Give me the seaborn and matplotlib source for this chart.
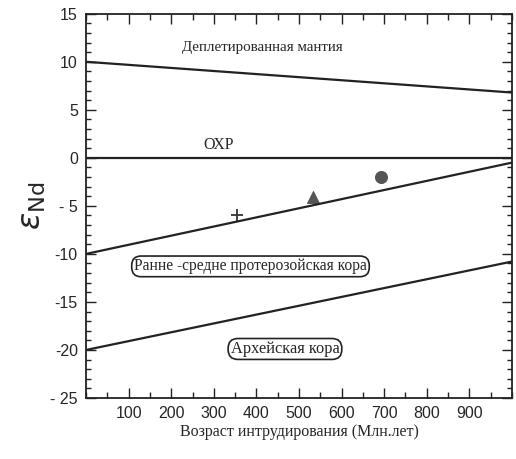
import matplotlib
matplotlib.use("Agg")
import matplotlib.pyplot as plt
import seaborn as sns
import pandas as pd
from matplotlib.ticker import MultipleLocator, FixedLocator

# ---- data ----
ages = [0, 1000]
depleted_mantle = [10.0, 6.8]
chur = [0.0, 0.0]
proterozoic_crust = [-10.0, -0.5]
archean_crust = [-20.0, -10.8]

sample_age = [355, 532, 692]
sample_eps = [-5.9, -4.1, -2.0]
sample_marker = ["+", "^", "o"]

xtick_vals = [100, 200, 300, 400, 500, 600, 700, 800, 900]
xtick_labels = ["100", "200", "300", "400", "500", "600", "700", "800", "900"]
ytick_vals = [-25, -20, -15, -10, -5, 0, 5, 10, 15]
ytick_labels = ["- 25", "-20", "-15", "-10", "- 5", "0", "5", "10", "15"]

# ---- style ----
sns.set_theme(style="ticks")
plt.rcParams["font.family"] = ["Liberation Sans", "DejaVu Sans"]

fig = plt.figure(figsize=(5.16, 4.59), dpi=100)
ax = fig.add_axes([0.167, 0.133, 0.825, 0.837])

lines = pd.DataFrame({
    "age": ages * 4,
    "eps": depleted_mantle + chur + proterozoic_crust + archean_crust,
    "line": ["dm"] * 2 + ["chur"] * 2 + ["prot"] * 2 + ["arch"] * 2,
})
for name, g in lines.groupby("line"):
    sns.lineplot(data=g, x="age", y="eps", color="#222222", lw=1.6, ax=ax,
                 legend=False)

for a, e, m in zip(sample_age, sample_eps, sample_marker):
    if m == "+":
        sns.scatterplot(x=[a], y=[e], marker="+", s=85, color="#333333",
                        linewidth=1.3, ax=ax, legend=False)
    else:
        sns.scatterplot(x=[a], y=[e], marker=m, s=75, color="#555555",
                        edgecolor="#555555", ax=ax, legend=False)

ax.set_xlim(0, 1000)
ax.set_ylim(-25, 15)

ax.xaxis.set_major_locator(FixedLocator(xtick_vals))
ax.set_xticklabels(xtick_labels)
ax.xaxis.set_minor_locator(MultipleLocator(50))
ax.yaxis.set_major_locator(FixedLocator(ytick_vals))
ax.set_yticklabels(ytick_labels)
ax.yaxis.set_minor_locator(MultipleLocator(1))

ax.tick_params(which="both", direction="in", top=True, right=True,
               color="#222222", width=1.0)
ax.tick_params(which="major", length=7, labelsize=11.5, pad=6)
ax.tick_params(which="minor", length=3.5)
ax.tick_params(axis="x", which="minor", length=4)
for s in ax.spines.values():
    s.set_linewidth(1.3)
    s.set_color("#222222")

serif = ["Liberation Serif", "DejaVu Serif"]
ax.set_xlabel("Возраст интрудирования (Млн.лет)", family=serif, fontsize=11.5,
              labelpad=2)
ax.set_ylabel(r"$\varepsilon_{\mathrm{Nd}}$", fontsize=23, labelpad=2)

ax.text(414, 11.5, "Деплетированная мантия", family=serif, fontsize=10.8,
        ha="center", va="center")
ax.text(312, 1.3, "ОХР", family=serif, fontsize=11.5, ha="center", va="center")
box = dict(boxstyle="round,pad=0.15,rounding_size=0.6", fc="white",
           ec="#222222", lw=1.2)
ax.text(386, -11.3, "Ранне -средне протерозойская кора", family=serif,
        fontsize=11.2, ha="center", va="center", bbox=box)
ax.text(467, -19.9, "Архейская кора", family=serif, fontsize=11.8,
        ha="center", va="center", bbox=box)

fig.savefig("out.png", dpi=100)
